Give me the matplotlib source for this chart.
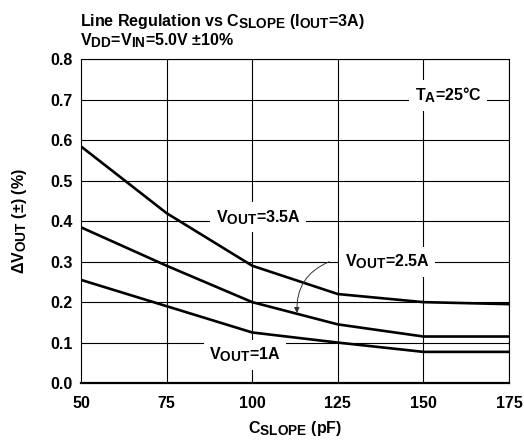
import matplotlib
matplotlib.use("Agg")
import matplotlib.pyplot as plt
import matplotlib._mathtext as mathtext_internal

# subscripts in the datasheet are barely smaller than the base text
mathtext_internal.SHRINK_FACTOR = 0.85

plt.rcParams["font.family"] = ["Liberation Sans", "DejaVu Sans"]
plt.rcParams["font.weight"] = "bold"
plt.rcParams["axes.labelweight"] = "bold"
plt.rcParams["mathtext.fontset"] = "custom"
plt.rcParams["mathtext.rm"] = "Liberation Sans:bold"
plt.rcParams["mathtext.it"] = "Liberation Sans:bold"
plt.rcParams["mathtext.bf"] = "Liberation Sans:bold"
plt.rcParams["mathtext.default"] = "rm"

c_slope = [50, 75, 100, 125, 150, 175]
reg_3a5 = [0.585, 0.42, 0.29, 0.22, 0.20, 0.195]
reg_2a5 = [0.385, 0.29, 0.20, 0.145, 0.115, 0.115]
reg_1a = [0.255, 0.19, 0.125, 0.10, 0.077, 0.077]

x_ticks = [50, 75, 100, 125, 150, 175]
y_ticks = [0.0, 0.1, 0.2, 0.3, 0.4, 0.5, 0.6, 0.7, 0.8]

FS = 11.5

fig = plt.figure(figsize=(5.24, 4.43), dpi=100)
ax = fig.add_axes([0.1546, 0.1354, 0.8168, 0.7303])

for y in y_ticks[1:]:
    ax.axhline(y, color="black", lw=0.8, zorder=1)
for x in x_ticks[1:]:
    ax.axvline(x, color="black", lw=0.8, zorder=1)

for ys in (reg_3a5, reg_2a5, reg_1a):
    ax.plot(c_slope, ys, color="black", lw=1.9, zorder=3, solid_capstyle="butt")

ax.set_xlim(50, 175)
ax.set_ylim(0, 0.8)
ax.set_xticks(x_ticks)
ax.set_yticks(y_ticks)
ax.set_yticklabels([f"{v:.1f}" for v in y_ticks])
ax.tick_params(length=0, labelsize=FS)
ax.tick_params(axis="x", pad=9)
ax.tick_params(axis="y", pad=6)
for s in ("left", "top", "right"):
    ax.spines[s].set_linewidth(0.8)
ax.spines["bottom"].set_linewidth(1.6)

box = dict(facecolor="white", edgecolor="none", pad=4)
ax.text(101.7, 0.41, r"$V_{OUT}$=3.5A", ha="center", va="center", fontsize=FS, bbox=box, zorder=4)
ax.text(139.4, 0.30, r"$V_{OUT}$=2.5A", ha="center", va="center", fontsize=FS, bbox=box, zorder=4)
ax.text(97.9, 0.07, r"$V_{OUT}$=1A", ha="center", va="center", fontsize=FS, bbox=box, zorder=4)
ax.text(157.2, 0.712, r"$T_{A}$=25°C", ha="center", va="center", fontsize=FS, bbox=box, zorder=4)

ax.annotate("", xy=(113.1, 0.173), xytext=(122.5, 0.30),
            arrowprops=dict(arrowstyle="-|>", color="#333333", lw=0.7,
                            mutation_scale=8, connectionstyle="arc3,rad=0.35",
                            shrinkA=0, shrinkB=0), zorder=5)

ax.set_xlabel(r"$C_{SLOPE}$ (pF)", fontsize=FS, labelpad=6)
ax.set_ylabel(r"$\Delta V_{OUT}$ (±) (%)", fontsize=FS, labelpad=15)

fig.text(0.153, 0.930, r"Line Regulation vs $C_{SLOPE}$ ($I_{OUT}$=3A)", fontsize=FS, va="bottom")
fig.text(0.153, 0.888, r"$V_{DD}$=$V_{IN}$=5.0V ±10%", fontsize=FS, va="bottom")

fig.savefig("out.png", dpi=100, facecolor="white")
